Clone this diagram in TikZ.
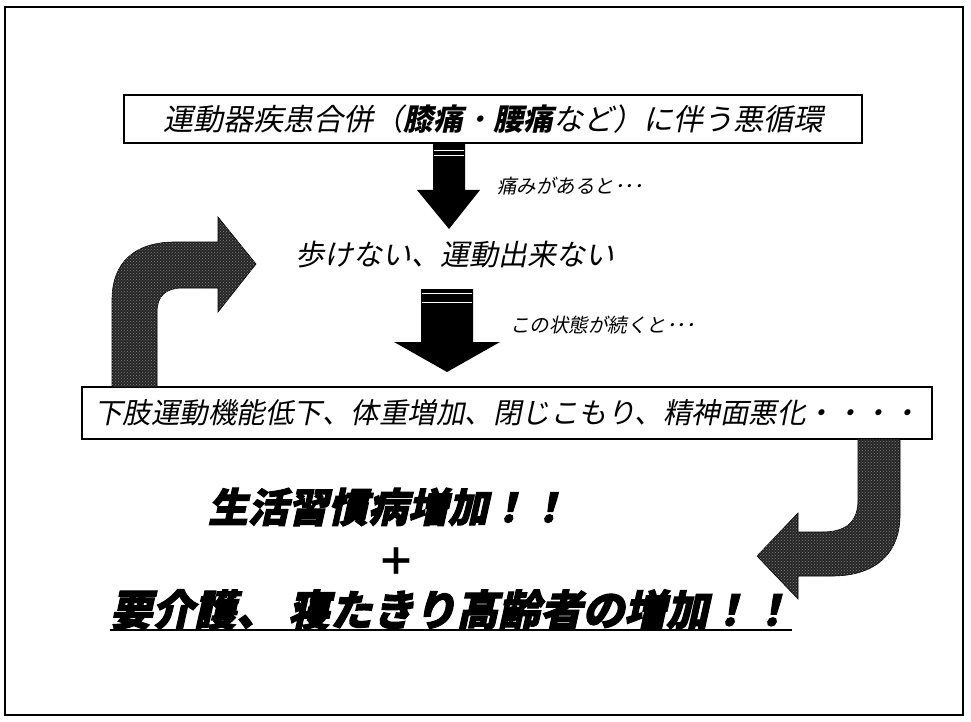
\documentclass[tikz,border=0pt]{standalone}
\usepackage{fontspec}
\usetikzlibrary{patterns}
\newfontfamily\jp[FakeSlant=0.2,BoldFeatures={FakeSlant=0.2}]{Noto Sans CJK JP}
\newfontfamily\jph[FakeSlant=0.22,BoldFeatures={FakeSlant=0.22,FakeBold=2.5}]{Noto Sans CJK JP}
\newfontfamily\jpu{Noto Sans CJK JP}
\begin{document}
\begin{tikzpicture}[x=1pt,y=-1pt,
  boxed/.style={draw=black,line width=1.8pt,fill=white,inner sep=0pt},
  lbl/.style={inner sep=0pt,anchor=west},
  blockarrow/.style={fill=black},
  grayarrow/.style={fill=black!85,draw=black,line width=0.6pt},
  speckle/.style={pattern=crosshatch dots,pattern color=black!50}]
\useasboundingbox (0,0) rectangle (971,722);
\draw[line width=1.4pt] (5,7) rectangle (963,715);
% top box
\node[boxed,minimum width=738pt,minimum height=48pt] (topbox) at (493,119)
  {\jp\fontsize{30pt}{30pt}\selectfont 運動器疾患合併（\textbf{膝痛}・\textbf{腰痛}など）に伴う悪循環};
% arrow 1
\fill[blockarrow] (433,143) -- (465,143) -- (465,190) -- (480,190) -- (449,229) -- (417,190) -- (433,190) -- cycle;
\draw[white,line width=0.8pt] (434,150) -- (464,150) (434,155) -- (464,155);
\node[lbl] (pain) at (497,186) {\jp\fontsize{19.5pt}{19.5pt}\selectfont 痛みがあると･･･};
\node[inner sep=0pt] (walk) at (455,255) {\jp\fontsize{29pt}{29pt}\selectfont 歩けない、運動出来ない};
% arrow 2
\fill[blockarrow] (421,289) -- (473,289) -- (473,342) -- (500,342) -- (447,372) -- (394,342) -- (421,342) -- cycle;
\draw[white,line width=0.8pt] (422,293) -- (472,293) (422,302) -- (472,302);
\node[lbl] (cont) at (510,325) {\jp\fontsize{19.5pt}{19.5pt}\selectfont この状態が続くと･･･};
% bottom box
\node[boxed,minimum width=850pt,minimum height=52pt] (botbox) at (507,413)
  {\jp\fontsize{28.5pt}{28.5pt}\selectfont 下肢運動機能低下、体重増加、閉じこもり、精神面悪化・・・・};
% left gray arrow
\def\leftarrowpath{(112,387) -- (112,300) .. controls (112,262) and (135,242) .. (175,242)
  -- (218,242) -- (218,217) -- (256,264) -- (218,312) -- (218,288) -- (182,288)
  .. controls (166,288) and (157,296) .. (157,312) -- (157,387) -- cycle}
\filldraw[grayarrow] \leftarrowpath;
\fill[speckle] \leftarrowpath;
% right gray arrow
\def\rightarrowpath{(858,439) -- (858,500) .. controls (858,522) and (846,532) .. (822,532)
  -- (798,532) -- (798,513) -- (757,556) -- (798,599) -- (798,576) -- (832,576)
  .. controls (876,576) and (900,553) .. (900,515) -- (900,439) -- cycle}
\filldraw[grayarrow] \rightarrowpath;
\fill[speckle] \rightarrowpath;
% results
\node[inner sep=0pt] (life) at (388,507) {\jph\bfseries\fontsize{40pt}{40pt}\selectfont 生活習慣病増加！！};
\node[inner sep=0pt] (plus) at (396,562) {\jpu\bfseries\fontsize{38pt}{38pt}\selectfont ＋};
\node[inner sep=0pt,anchor=south west] (care) at (110,630) {\jph\bfseries\fontsize{42pt}{42pt}\selectfont 要介護、\hspace{10pt}寝たきり高齢者の増加！！};
\draw[line width=1.6pt] (care.south west) -- (care.south east);
\end{tikzpicture}
\end{document}
